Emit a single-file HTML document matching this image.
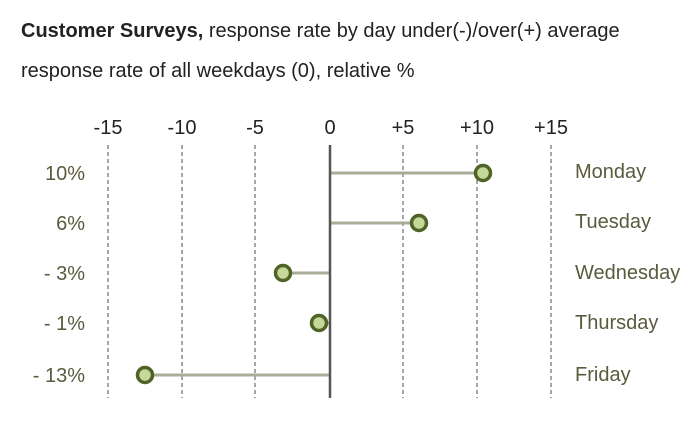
<!DOCTYPE html>
<html><head><meta charset="utf-8"><style>body{margin:0;background:#fff}</style></head><body>
<svg width="700" height="419" xmlns="http://www.w3.org/2000/svg" font-family="Liberation Sans, sans-serif">
<rect width="700" height="419" fill="#fff"/>
<text x="21" y="37" font-size="20" fill="#222"><tspan font-weight="bold">Customer Surveys,</tspan> response rate by day under(-)/over(+) average</text>
<text x="21" y="77" font-size="20" fill="#222">response rate of all weekdays (0), relative %</text>
<g font-size="20" fill="#222" text-anchor="middle">
<text x="108" y="134">-15</text><text x="182" y="134">-10</text><text x="255" y="134">-5</text><text x="330" y="134">0</text><text x="403" y="134">+5</text><text x="477" y="134">+10</text><text x="551" y="134">+15</text>
</g>
<g stroke="#777" stroke-width="1.3" stroke-dasharray="4,3">
<line x1="108" y1="145" x2="108" y2="398"/><line x1="182" y1="145" x2="182" y2="398"/><line x1="255" y1="145" x2="255" y2="398"/><line x1="403" y1="145" x2="403" y2="398"/><line x1="477" y1="145" x2="477" y2="398"/><line x1="551" y1="145" x2="551" y2="398"/>
</g>
<g stroke="#a9ad98" stroke-width="3">
<line x1="330" y1="173" x2="483" y2="173"/><line x1="330" y1="223" x2="419" y2="223"/><line x1="330" y1="273" x2="283" y2="273"/><line x1="330" y1="323" x2="319" y2="323"/><line x1="330" y1="375" x2="145" y2="375"/>
</g>
<line x1="330" y1="145" x2="330" y2="398" stroke="#555" stroke-width="2.5"/>
<g fill="#c5d89a" stroke="#4f6426" stroke-width="3.5">
<circle cx="483" cy="173" r="7.5"/><circle cx="419" cy="223" r="7.5"/><circle cx="283" cy="273" r="7.5"/><circle cx="319" cy="323" r="7.5"/><circle cx="145" cy="375" r="7.5"/>
</g>
<g font-size="20" fill="#5a5a3c" text-anchor="end">
<text x="85" y="180">10%</text><text x="85" y="230">6%</text><text x="85" y="280">- 3%</text><text x="85" y="330">- 1%</text><text x="85" y="382">- 13%</text>
</g>
<g font-size="20" fill="#5a5a3c">
<text x="575" y="178">Monday</text><text x="575" y="228">Tuesday</text><text x="575" y="279">Wednesday</text><text x="575" y="329">Thursday</text><text x="575" y="381">Friday</text>
</g>
</svg>
</body></html>
